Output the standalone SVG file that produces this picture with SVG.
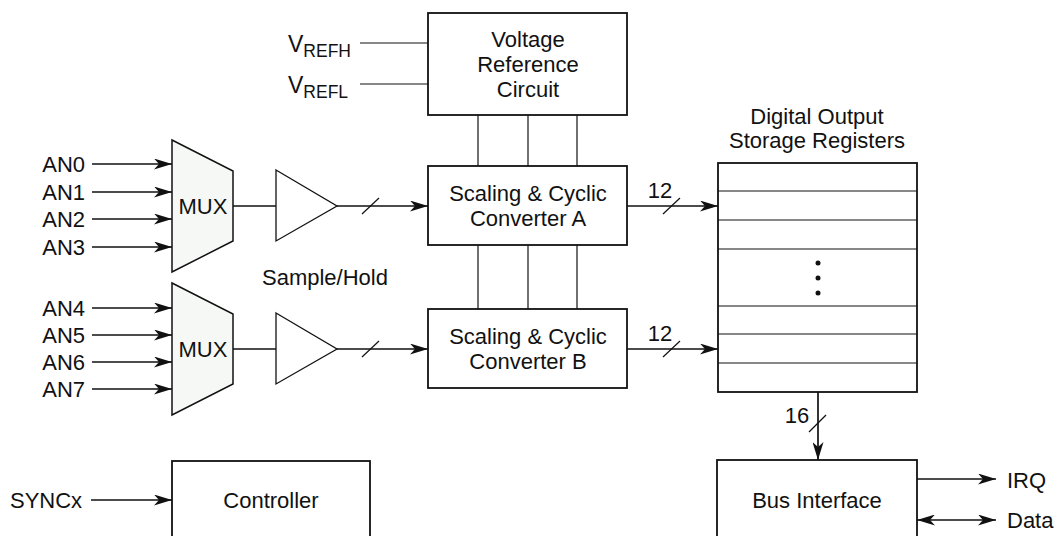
<svg xmlns="http://www.w3.org/2000/svg" width="1058" height="536" viewBox="0 0 1058 536">
<defs>
<style>
.box{fill:#fff;stroke:#111;stroke-width:1.8}
.mux{fill:#f5f8f4;stroke:#111;stroke-width:1.5}
.amp{fill:#fff;stroke:#111;stroke-width:1.3}
.ln{fill:none;stroke:#111;stroke-width:1.7}
.thin{fill:none;stroke:#111;stroke-width:1.2}
.t{font-family:"Liberation Sans",Arial,sans-serif;font-size:22px;fill:#111}
.c{text-anchor:middle}
.e{text-anchor:end}
</style>
<marker id="arr" viewBox="0 0 18 11" refX="18" refY="5.5" markerWidth="18" markerHeight="11" orient="auto-start-reverse" markerUnits="userSpaceOnUse">
<path d="M0,0 L18,5.5 L0,11 L5,5.5 Z" fill="#111"/>
</marker>
</defs>

<g id="connectors">
<line class="thin" x1="360" y1="43" x2="428" y2="43"/>
<line class="thin" x1="360" y1="84" x2="428" y2="84"/>
<line class="thin" x1="478" y1="115" x2="478" y2="166"/>
<line class="thin" x1="528" y1="115" x2="528" y2="166"/>
<line class="thin" x1="577" y1="115" x2="577" y2="166"/>
<line class="thin" x1="478" y1="245" x2="478" y2="309"/>
<line class="thin" x1="528" y1="245" x2="528" y2="309"/>
<line class="thin" x1="577" y1="245" x2="577" y2="309"/>
<line class="ln" x1="92" y1="164" x2="172" y2="164" marker-end="url(#arr)"/>
<line class="ln" x1="92" y1="192" x2="172" y2="192" marker-end="url(#arr)"/>
<line class="ln" x1="92" y1="219" x2="172" y2="219" marker-end="url(#arr)"/>
<line class="ln" x1="92" y1="247" x2="172" y2="247" marker-end="url(#arr)"/>
<line class="ln" x1="92" y1="308" x2="172" y2="308" marker-end="url(#arr)"/>
<line class="ln" x1="92" y1="335" x2="172" y2="335" marker-end="url(#arr)"/>
<line class="ln" x1="92" y1="362" x2="172" y2="362" marker-end="url(#arr)"/>
<line class="ln" x1="92" y1="389" x2="172" y2="389" marker-end="url(#arr)"/>
<line class="ln" x1="233" y1="206" x2="276" y2="206"/>
<line class="ln" x1="233" y1="349" x2="276" y2="349"/>
<line class="ln" x1="337" y1="206" x2="428" y2="206" marker-end="url(#arr)"/>
<line class="thin" x1="362" y1="214" x2="379" y2="198"/>
<line class="ln" x1="337" y1="349" x2="428" y2="349" marker-end="url(#arr)"/>
<line class="thin" x1="362" y1="357" x2="379" y2="341"/>
<line class="ln" x1="627" y1="206" x2="718" y2="206" marker-end="url(#arr)"/>
<line class="thin" x1="663" y1="214" x2="680" y2="198"/>
<line class="ln" x1="627" y1="349" x2="718" y2="349" marker-end="url(#arr)"/>
<line class="thin" x1="663" y1="357" x2="680" y2="341"/>
<line class="ln" x1="818" y1="392" x2="818" y2="460" marker-end="url(#arr)"/>
<line class="thin" x1="809" y1="432" x2="826" y2="415"/>
<line class="ln" x1="91" y1="500" x2="172" y2="500" marker-end="url(#arr)"/>
<line class="ln" x1="917" y1="479" x2="996" y2="479" marker-end="url(#arr)"/>
<line class="ln" x1="917" y1="520" x2="996" y2="520" marker-start="url(#arr)" marker-end="url(#arr)"/>
</g>

<g id="vref-labels">
<text class="t" x="288" y="52" style="font-size:23px">V<tspan dy="5" style="font-size:17.5px">REFH</tspan></text>
<text class="t" x="288" y="93" style="font-size:23px">V<tspan dy="5" style="font-size:17.5px">REFL</tspan></text>
</g>

<g id="voltage-ref">
<rect class="box" x="428" y="13" width="199" height="102"/>
<text class="t c" x="528" y="47">Voltage</text>
<text class="t c" x="528" y="72">Reference</text>
<text class="t c" x="528" y="97">Circuit</text>
</g>

<g id="an-labels">
<text class="t e" x="85" y="172">AN0</text>
<text class="t e" x="85" y="200">AN1</text>
<text class="t e" x="85" y="227">AN2</text>
<text class="t e" x="85" y="255">AN3</text>
<text class="t e" x="85" y="316">AN4</text>
<text class="t e" x="85" y="343">AN5</text>
<text class="t e" x="85" y="370">AN6</text>
<text class="t e" x="85" y="397">AN7</text>
</g>

<g id="mux-a">
<polygon class="mux" points="172,140 233,171 233,241 172,272"/>
<text class="t c" x="203" y="214">MUX</text>
</g>
<g id="mux-b">
<polygon class="mux" points="172,283 233,314 233,384 172,415"/>
<text class="t c" x="203" y="357">MUX</text>
</g>

<g id="amp-a">
<polygon class="amp" points="276,170 337,206 276,241"/>
</g>
<g id="amp-b">
<polygon class="amp" points="276,313 337,349 276,384"/>
</g>
<g id="sample-hold-label">
<text class="t" x="262" y="285">Sample/Hold</text>
</g>

<g id="converter-a">
<rect class="box" x="428" y="166" width="199" height="79"/>
<text class="t c" x="528" y="201">Scaling &amp; Cyclic</text>
<text class="t c" x="528" y="226">Converter A</text>
</g>
<g id="converter-b">
<rect class="box" x="428" y="309" width="199" height="79"/>
<text class="t c" x="528" y="344">Scaling &amp; Cyclic</text>
<text class="t c" x="528" y="369">Converter B</text>
</g>

<g id="bus-labels">
<text class="t c" x="660" y="198">12</text>
<text class="t c" x="660" y="341">12</text>
<text class="t c" x="797" y="423">16</text>
</g>

<g id="registers">
<text class="t c" x="817" y="124">Digital Output</text>
<text class="t c" x="817" y="148">Storage Registers</text>
<rect class="box" x="718" y="163" width="199" height="229"/>
<line class="thin" x1="718" y1="191" x2="917" y2="191"/>
<line class="thin" x1="718" y1="220" x2="917" y2="220"/>
<line class="thin" x1="718" y1="249" x2="917" y2="249"/>
<line class="thin" x1="718" y1="306" x2="917" y2="306"/>
<line class="thin" x1="718" y1="334" x2="917" y2="334"/>
<line class="thin" x1="718" y1="363" x2="917" y2="363"/>
<circle cx="818" cy="263" r="2.5" fill="#111"/>
<circle cx="818" cy="278" r="2.5" fill="#111"/>
<circle cx="818" cy="293" r="2.5" fill="#111"/>
</g>

<g id="controller">
<rect class="box" x="172" y="461" width="198" height="80"/>
<text class="t c" x="271" y="508">Controller</text>
</g>
<g id="syncx-label">
<text class="t" x="10" y="508">SYNCx</text>
</g>

<g id="bus-interface">
<rect class="box" x="717" y="460" width="200" height="81"/>
<text class="t c" x="817" y="508">Bus Interface</text>
</g>
<g id="io-labels">
<text class="t" x="1007" y="488">IRQ</text>
<text class="t" x="1007" y="528">Data</text>
</g>
</svg>
